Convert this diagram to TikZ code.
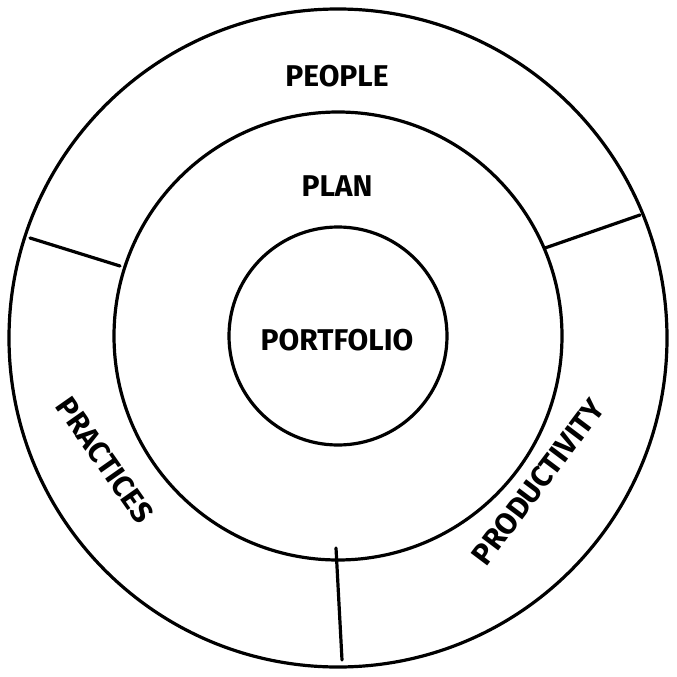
\documentclass[tikz,border=0pt]{standalone}
\usepackage{fontspec}
\setmainfont{Fira Sans}
\begin{document}
\begin{tikzpicture}[x=1pt,y=-1pt,
  ring/.style={draw=black,line width=3.2pt},
  sep/.style={draw=black,line width=3.2pt,line cap=round},
  lbl/.style={font=\fontsize{30}{32}\selectfont\bfseries,inner sep=1pt}]
\useasboundingbox (0,0) rectangle (677,677);
\node[ring,circle,minimum size=658pt,inner sep=0] (outer) at (338,338) {};
\node[ring,circle,minimum size=448pt,inner sep=0] (mid) at (338,336) {};
\node[ring,circle,minimum size=218pt,inner sep=0] (inner) at (338,336) {};
\coordinate (l1) at (30,238); \coordinate (l2) at (120,266);
\coordinate (r1) at (545,248); \coordinate (r2) at (640,215);
\coordinate (b1) at (336,548); \coordinate (b2) at (342,660);
\draw[sep] (l1) -- (l2);
\draw[sep] (r1) -- (r2);
\draw[sep] (b1) -- (b2);
\node[lbl] (people) at (337,76) {PEOPLE};
\node[lbl] (plan) at (337,186) {PLAN};
\node[lbl] (portfolio) at (337,340) {PORTFOLIO};
\node[lbl,rotate=-55] (practices) at (105,460) {PRACTICES};
\node[lbl,rotate=53] (productivity) at (538,482) {PRODUCTIVITY};
\end{tikzpicture}
\end{document}
